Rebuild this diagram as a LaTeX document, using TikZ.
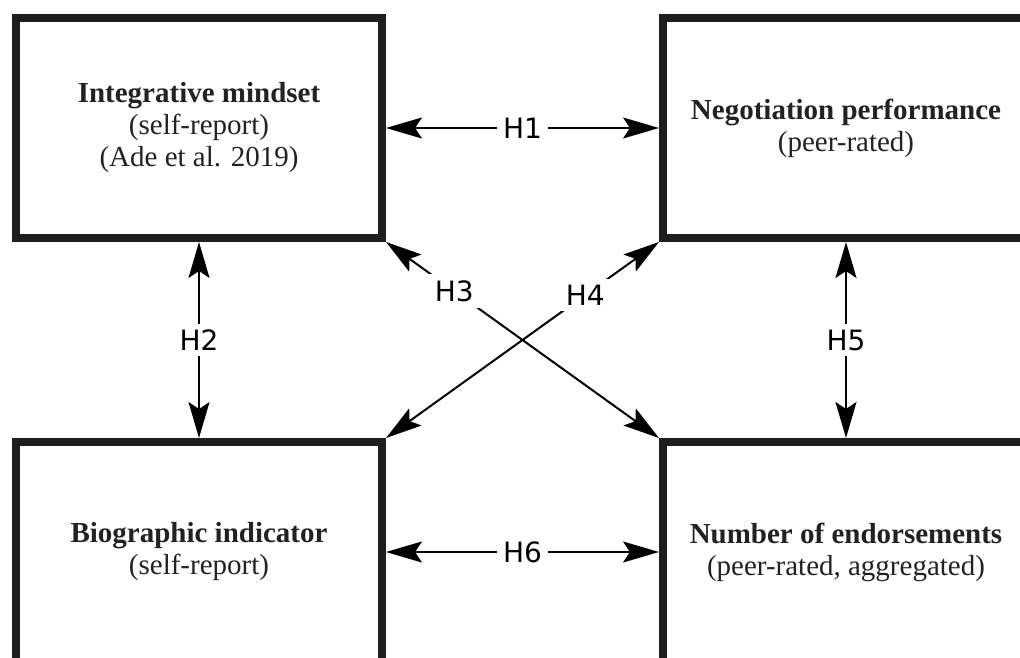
\documentclass[tikz,border=0pt]{standalone}
\usepackage{fontspec}
\setmainfont{Liberation Serif}
\newfontfamily\hypfont{DejaVu Sans}
\usetikzlibrary{arrows.meta}
\definecolor{boxgray}{RGB}{30,30,30}
\definecolor{textgray}{RGB}{34,34,34}
\tikzset{
  varbox/.style = {draw = boxgray, line width = 8pt, minimum width = 366pt, minimum height = 220pt,
                   align = center, text = textgray, font = \fontsize{29}{32}\selectfont},
  hyparrow/.style = {line width = 2pt, {Stealth[length=36pt,width=21pt,inset=7pt]}-{Stealth[length=36pt,width=21pt,inset=7pt]}},
  hyplabel/.style = {fill = white, inner sep = 6pt, font = \hypfont\fontsize{28}{30}\selectfont}
}

\begin{document}
\begin{tikzpicture}[x = 1pt, y = -1pt]
                        \useasboundingbox (0,0) rectangle (1020,658);
                        \clip (0,0) rectangle (1020,658);
                        \node[varbox] (mindset) at (199,128) {\textbf{Integrative mindset}\\(self-report)\\(Ade et al. 2019)};
                        \node[varbox] (perform) at (846,128) {\textbf{Negotiation performance}\\(peer-rated)};
                        \node[varbox] (biograph) at (199,552) {\textbf{Biographic indicator}\\(self-report)};
                        \node[varbox] (endorse) at (846,552) {\textbf{Number of endorsements}\\(peer-rated, aggregated)};
                        \draw[hyparrow] (mindset) -- node[hyplabel]{H1} (perform);
                        \draw[hyparrow] (biograph) -- node[hyplabel]{H6} (endorse);
                        \draw[hyparrow] (mindset) -- node[hyplabel]{H2} (biograph);
                        \draw[hyparrow] (perform) -- node[hyplabel]{H5} (endorse);
                        \draw[hyparrow] (mindset.south east) -- node[hyplabel, pos = 0.25]{H3} (endorse.north west);
                        \draw[hyparrow] (perform.south west) -- node[hyplabel, pos = 0.27]{H4} (biograph.north east);
                      \end{tikzpicture}
\end{document}
